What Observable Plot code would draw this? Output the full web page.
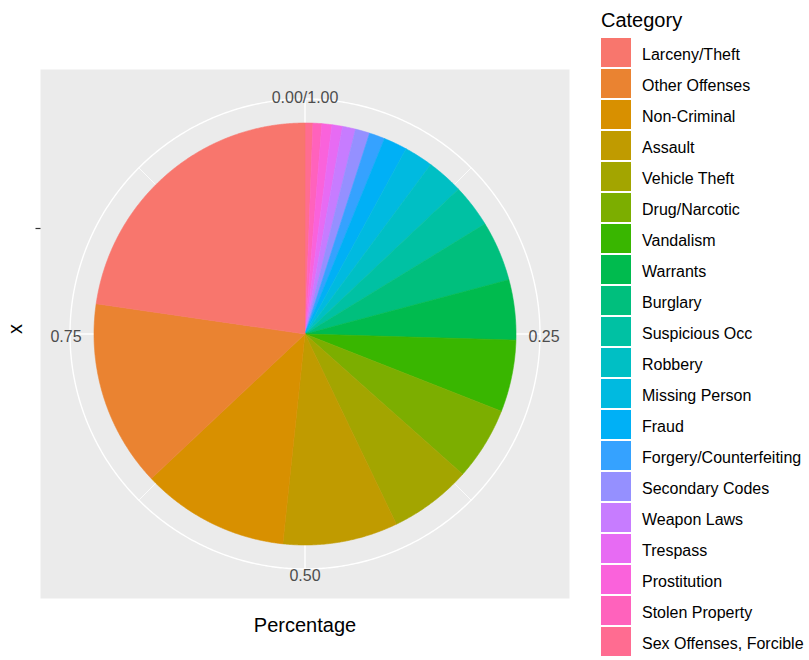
<!DOCTYPE html>
<html>
<head>
<meta charset="utf-8">
<script src="https://cdn.jsdelivr.net/npm/d3@7"></script>
<script src="https://cdn.jsdelivr.net/npm/@observablehq/plot@0.6"></script>
<style>
  html, body { margin: 0; padding: 0; background: #fff; overflow: hidden; }
  #wrap { position: relative; width: 809px; height: 660px; font-family: "Liberation Sans", Arial, sans-serif; }
  #chart { position: absolute; left: 0; top: 0; }
  #legend { position: absolute; left: 0; top: 0; width: 809px; height: 660px; pointer-events: none; }
  .ltitle { position: absolute; left: 601px; top: 20px; transform: translateY(-50%); font-size: 20px; color: #000; white-space: nowrap; }
  .lkey { position: absolute; left: 601px; width: 30px; height: 28.5px; }
  .llab { position: absolute; left: 642px; transform: translateY(-50%); font-size: 16px; color: #000; white-space: nowrap; }
</style>
</head>
<body>
<div id="wrap"><div id="chart"></div><div id="legend"></div></div>
<script>
// ---- data ----
const categories = ["Larceny/Theft","Other Offenses","Non-Criminal","Assault","Vehicle Theft","Drug/Narcotic","Vandalism","Warrants","Burglary","Suspicious Occ","Robbery","Missing Person","Fraud","Forgery/Counterfeiting","Secondary Codes","Weapon Laws","Trespass","Prostitution","Stolen Property","Sex Offenses, Forcible"];
const percentages = [0.227,0.143,0.113,0.088,0.063,0.056,0.055,0.046,0.046,0.033,0.028,0.022,0.018,0.012,0.011,0.010,0.008,0.0077,0.0068,0.006];
const colors = ["#F8766D","#EA8331","#D89000","#C09B00","#A3A500","#7CAE00","#39B600","#00BB4E","#00BF7D","#00C1A3","#00BFC4","#00BAE0","#00B0F6","#35A2FF","#9590FF","#C77CFF","#E76BF3","#FA62DB","#FF62BC","#FF6C91"];
const thetaBreaks = [0, 0.25, 0.5, 0.75];
const thetaLabels = ["0.00/1.00", "0.25", "0.50", "0.75"];
const thetaMinor = [0.125, 0.375, 0.625, 0.875];
const rBreaks = [0.5];
const legendTitle = "Category";
const xTitle = "Percentage";
const yTitle = "x";

// ---- geometry (ggplot coord_polar, theta = y, clockwise from 12 o'clock) ----
const H = 264.5 / 211;       // half panel size in pie-radius units
const OUTER = 235 / 211;     // outer grid circle
const LABR = 239 / 211;      // theta label radius
const total = d3.sum(percentages);
const TAU = Math.PI * 2;
const px = (f, r) => r * Math.sin(TAU * f);
const py = (f, r) => r * Math.cos(TAU * f);

// stacked: last level starts at 0
const wedgePts = [];
let cum = 0;
for (let i = categories.length - 1; i >= 0; i--) {
  const a0 = cum / total, a1 = (cum + percentages[i]) / total;
  cum += percentages[i];
  const cat = categories[i];
  const n = Math.max(2, Math.ceil((a1 - a0) * 1440));
  wedgePts.push({cat, x: 0, y: 0});
  for (let k = 0; k <= n; k++) {
    const f = a0 + (a1 - a0) * k / n;
    wedgePts.push({cat, x: px(f, 1), y: py(f, 1)});
  }
  wedgePts.push({cat, x: 0, y: 0});
}
const circlePts = d3.range(0, 1.0001, 1 / 720).map(f => ({x: px(f, OUTER), y: py(f, OUTER)}));
const tickData = thetaBreaks.map((f, i) => ({f, label: thetaLabels[i]}));

const chart = Plot.plot({
  width: 809, height: 660,
  marginLeft: 40, marginRight: 240, marginTop: 69, marginBottom: 62,
  x: {domain: [-H, H], axis: null},
  y: {domain: [-H, H], axis: null},
  color: {domain: categories, range: colors},
  style: {fontFamily: '"Liberation Sans", Arial, sans-serif', background: "transparent"},
  marks: [
    Plot.frame({fill: "#EBEBEB", stroke: null}),
    Plot.line(circlePts, {x: "x", y: "y", stroke: "white", strokeWidth: 1.4}),
    Plot.link(thetaMinor, {x1: 0, y1: 0, x2: f => px(f, OUTER), y2: f => py(f, OUTER), stroke: "white", strokeWidth: 0.8}),
    Plot.link(thetaBreaks, {x1: 0, y1: 0, x2: f => px(f, OUTER), y2: f => py(f, OUTER), stroke: "white", strokeWidth: 1.4}),
    Plot.line(wedgePts, {x: "x", y: "y", z: "cat", fill: "cat", stroke: "cat", strokeWidth: 0.6, curve: "linear"}),
    Plot.text(tickData, {x: d => px(d.f, LABR), y: d => py(d.f, LABR), text: "label", fill: "#4D4D4D", fontSize: 16, dy: 3}),
    Plot.link(rBreaks, {x1: -H, x2: -H - 5 / 211, y1: r => r, y2: r => r, stroke: "#333333", strokeWidth: 1.2}),
    Plot.text([xTitle], {frameAnchor: "bottom", dy: 33, fontSize: 20, fill: "#000"}),
    Plot.text([yTitle], {frameAnchor: "left", dx: -25, rotate: -90, fontSize: 20, fill: "#000"})
  ]
});
document.getElementById("chart").appendChild(chart);

// ---- legend ----
const leg = document.getElementById("legend");
const t = document.createElement("div");
t.className = "ltitle"; t.textContent = legendTitle; leg.appendChild(t);
categories.forEach((c, i) => {
  const top = 38.3 + 31 * i;
  const k = document.createElement("div");
  k.className = "lkey"; k.style.top = top + "px"; k.style.background = colors[i];
  leg.appendChild(k);
  const l = document.createElement("div");
  l.className = "llab"; l.style.top = (top + 16.5) + "px"; l.textContent = c;
  leg.appendChild(l);
});
</script>
</body>
</html>
